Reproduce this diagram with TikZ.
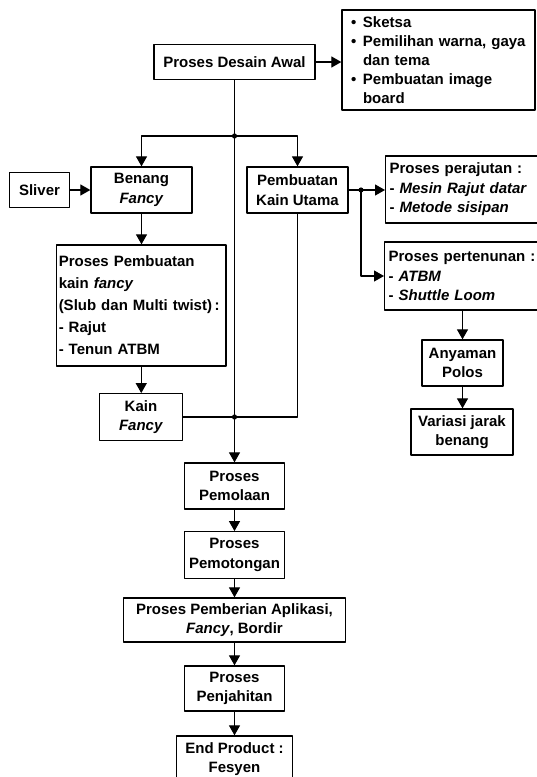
\documentclass[tikz,border=0pt]{standalone}
\usepackage{fontspec}
\setmainfont{Liberation Sans}
\usetikzlibrary{arrows.meta}
\newcommand{\itm}{\makebox[12pt][l]{\textbullet}}
\begin{document}
\begin{tikzpicture}[x=1pt, y=-1pt, font=\bfseries\fontsize{15}{19.5}\selectfont, line join=round, >={Triangle[length=10pt,width=11pt]},
	kotak/.style={draw, line width=1.3pt, align=center, inner sep=2pt},
	garis/.style={line width=1.2pt}]
	\useasboundingbox (0,0) rectangle (537,777);
	\def\xa{234.5} \def\xb{141.5} \def\xc{297.5} % Sumbu kolom
	% Desain awal
	\node[kotak, minimum width=161pt, minimum height=35pt] (desain) at (\xa,62) {Proses Desain Awal};
	\node[kotak, minimum width=193pt, minimum height=100pt, text width=175pt, align=left, font=\bfseries\fontsize{15}{19}\selectfont] (sketsa) at (438.5,60)
		{\itm Sketsa\\ \itm Pemilihan warna, gaya\\ \hspace*{12pt}dan tema\\ \itm Pembuatan image\\ \hspace*{12pt}board};
	% Kolom kiri
	\node[kotak, minimum width=60pt, minimum height=34.5pt] (sliver) at (39.5,190) {Sliver};
	\node[kotak, minimum width=101pt, minimum height=46pt] (benang) at (\xb,190) {Benang\\ \textit{Fancy}};
	\node[kotak, minimum width=169.5pt, minimum height=121pt, text width=165pt, align=left, inner xsep=2pt, font=\bfseries\fontsize{15}{22}\selectfont] (pfancy) at (141.25,305.5)
		{Proses Pembuatan\\ kain \textit{fancy}\\ (Slub dan Multi twist)\,:\\ - Rajut\\ - Tenun ATBM};
	\node[kotak, minimum width=83.5pt, minimum height=46.5pt] (kfancy) at (141,417) {Kain\\ \textit{Fancy}};
	% Kolom kanan
	\node[kotak, minimum width=101pt, minimum height=46pt] (utama) at (\xc,190) {Pembuatan\\ Kain Utama};
	\node[kotak, anchor=west, text width=150pt, align=left, inner xsep=4pt, minimum height=67pt] (rajut) at (385,189.5)
		{Proses perajutan :\\ - \textit{Mesin Rajut datar}\\ - \textit{Metode sisipan}};
	\node[kotak, anchor=west, text width=150pt, align=left, inner xsep=4pt, minimum height=68pt] (tenun) at (384,276)
		{Proses pertenunan :\\ - \textit{ATBM}\\ - \textit{Shuttle Loom}};
	\node[kotak, minimum width=81pt, minimum height=46pt] (anyaman) at (462.5,363) {Anyaman\\ Polos};
	\node[kotak, minimum width=102pt, minimum height=46pt] (variasi) at (462,432) {Variasi jarak\\ benang};
	% Proses utama
	\node[kotak, minimum width=100pt, minimum height=46pt] (pemolaan) at (\xa,486) {Proses\\ Pemolaan};
	\node[kotak, minimum width=100pt, minimum height=46.5pt] (pemotongan) at (\xa,555) {Proses\\ Pemotongan};
	\node[kotak, minimum width=222pt, minimum height=44pt] (aplikasi) at (\xa,620) {Proses Pemberian Aplikasi,\\ \textit{Fancy}, Bordir};
	\node[kotak, minimum width=100pt, minimum height=45pt] (penjahitan) at (\xa,688.5) {Proses\\ Penjahitan};
	\node[kotak, minimum width=116pt, minimum height=46pt] (produk) at (\xa,759) {End Product :\\ Fesyen};
	% Titik cabang
	\coordinate (j1) at (\xa,136);
	\coordinate (j2) at (\xa,417);
	\coordinate (j3) at (361,190);
	% Garis
	\draw[garis,->] (desain.east) -- (sketsa.west |- desain.east);
	\draw[garis] (desain.south) -- (j1) -- (j2);
	\draw[garis,->] (j1) -| (benang.north);
	\draw[garis,->] (j1) -| (utama.north);
	\draw[garis,->] (sliver.east) -- (benang.west);
	\draw[garis,->] (benang.south) -- (benang.south |- pfancy.north);
	\draw[garis,->] (pfancy.south) -- (pfancy.south |- kfancy.north);
	\draw[garis] (kfancy.east) -- (j2);
	\draw[garis] (utama.south) |- (j2);
	\draw[garis] (utama.east) -- (j3);
	\draw[garis,->] (j3) -- (rajut.west |- j3);
	\draw[garis,->] (j3) |- (tenun.west);
	\draw[garis,->] (anyaman.north |- tenun.south) -- (anyaman.north);
	\draw[garis,->] (anyaman.south) -- (variasi.north -| anyaman.south);
	\draw[garis,->] (j2) -- (pemolaan.north);
	\draw[garis,->] (pemolaan) -- (pemotongan);
	\draw[garis,->] (pemotongan) -- (aplikasi);
	\draw[garis,->] (aplikasi) -- (penjahitan);
	\draw[garis,->] (penjahitan) -- (produk);
	\foreach \j in {j1,j2,j3} \fill (\j) circle (2.6pt);
\end{tikzpicture}
\end{document}
